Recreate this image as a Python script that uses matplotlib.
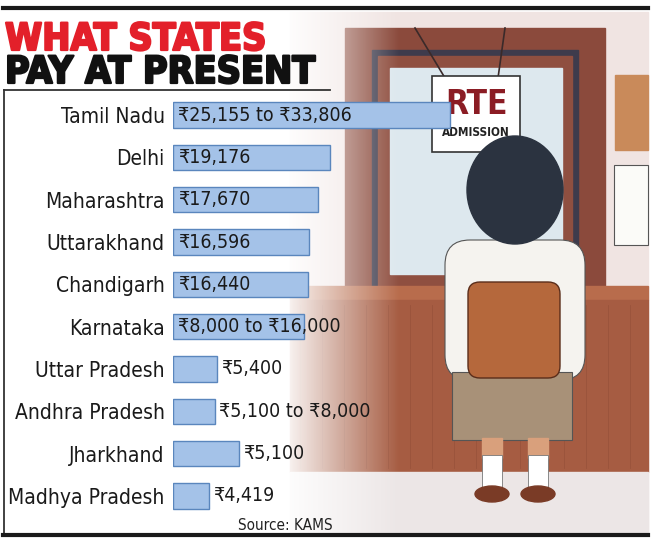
import numpy as np
import matplotlib.pyplot as plt
import matplotlib.patheffects as pe
from matplotlib.patches import Rectangle, Ellipse, FancyBboxPatch

# data
states = ["Tamil Nadu", "Delhi", "Maharashtra", "Uttarakhand", "Chandigarh",
          "Karnataka", "Uttar Pradesh", "Andhra Pradesh", "Jharkhand", "Madhya Pradesh"]
low = [25155, 19176, 17670, 16596, 16440, 8000, 5400, 5100, 5100, 4419]
high = [33806, None, None, None, None, 16000, None, 8000, None, None]
# bar lengths as drawn in the graphic
bar_len = [33806, 19176, 17670, 16596, 16440, 16000, 5400, 5100, 8000, 4419]
inside = [True, True, True, True, True, True, False, False, False, False]

W, H = 655, 544
plt.rcParams["font.family"] = "DejaVu Sans"
plt.rcParams["font.stretch"] = "condensed"

fig = plt.figure(figsize=(W / 100, H / 100), dpi=100)
bg = fig.add_axes([0, 0, 1, 1])
bg.set_xlim(0, W)
bg.set_ylim(H, 0)
bg.axis("off")

# --- rough illustration on the right ---
bg.add_patch(Rectangle((290, 12), 358, 523, color="#f0e4e2", zorder=1))
bg.add_patch(Rectangle((345, 28), 260, 262, color="#8b4a3c", zorder=2))
bg.add_patch(Rectangle((372, 50), 206, 240, color="#3e3b4c", zorder=2))
bg.add_patch(Rectangle((378, 56), 194, 234, color="#8f4f40", zorder=2))
bg.add_patch(Rectangle((390, 68), 172, 206, color="#dde8ee", zorder=2))
bg.add_patch(Rectangle((615, 75), 33, 75, color="#c98a5a", zorder=2))
bg.add_patch(Rectangle((614, 165), 34, 80, color="#fbfbf8", ec="#555", lw=0.8, zorder=2))
bg.add_patch(Rectangle((290, 286), 358, 14, color="#b86c4c", zorder=3))
bg.add_patch(Rectangle((290, 300), 358, 172, color="#a65c42", zorder=3))
for xs in range(300, 648, 22):
    bg.plot([xs, xs], [305, 468], color="#8e4a34", lw=0.6, alpha=0.5, zorder=3)
bg.add_patch(Rectangle((290, 472), 358, 63, color="#ece6e6", zorder=3))
# sign
bg.plot([415, 445], [28, 78], color="#3a2a2a", lw=1.2, zorder=4)
bg.plot([505, 498], [28, 78], color="#3a2a2a", lw=1.2, zorder=4)
bg.add_patch(Rectangle((432, 76), 88, 76, fc="white", ec="#333", lw=1.2, zorder=4))
bg.text(476, 104, "RTE", color="#8b1c24", fontsize=24, fontweight="bold",
        ha="center", va="center", zorder=5)
bg.text(476, 133, "ADMISSION", color="#222", fontsize=8.5, fontweight="bold",
        ha="center", va="center", zorder=5)
# boy
bg.add_patch(FancyBboxPatch((445, 240), 140, 140, boxstyle="round,pad=0,rounding_size=25",
                            fc="#f5f3ef", ec="#555", lw=0.8, zorder=5))
bg.add_patch(Rectangle((452, 372), 120, 68, fc="#a89178", ec="#555", lw=0.8, zorder=5))
for lx in (482, 528):
    bg.add_patch(Rectangle((lx, 438), 20, 20, color="#d9a07c", zorder=5))
    bg.add_patch(Rectangle((lx, 455), 20, 38, fc="white", ec="#777", lw=0.6, zorder=5))
    bg.add_patch(Ellipse((lx + 10, 494), 34, 16, color="#7a3b26", zorder=6))
bg.add_patch(FancyBboxPatch((468, 282), 92, 96, boxstyle="round,pad=0,rounding_size=12",
                            fc="#b5683c", ec="#5a2d1a", lw=1, zorder=6))
bg.add_patch(Ellipse((515, 190), 96, 108, color="#2b3340", zorder=6))

# fade the illustration into white on the left
fade = np.ones((1, 200, 4))
fade[..., 3] = np.linspace(1, 0, 200)
bg.imshow(fade, extent=(280, 400, 536, 10), aspect="auto", zorder=7)
bg.add_patch(Rectangle((0, 10), 280, 526, color="white", zorder=7))

# frame lines
bg.plot([3, 648], [8, 8], color="#1a1a1a", lw=3, zorder=9)
bg.plot([4, 4], [90, 535], color="#333", lw=1.3, zorder=9)
bg.plot([4, 330], [90, 90], color="#333", lw=1.3, zorder=9)
bg.plot([3, 648], [535, 535], color="#1a1a1a", lw=3, zorder=9)

# title
bg.text(5, 50, "WHAT STATES", color="#e3202a", fontsize=27, fontweight="bold",
        va="baseline", zorder=9,
        path_effects=[pe.withStroke(linewidth=1.6, foreground="#e3202a")])
bg.text(5, 83, "PAY AT PRESENT", color="#111", fontsize=27, fontweight="bold",
        va="baseline", zorder=9,
        path_effects=[pe.withStroke(linewidth=1.6, foreground="#111")])
bg.text(333, 525, "Source: KAMS", fontsize=11, ha="right", va="center",
        color="#222", zorder=9)

# --- bar chart ---
x_px = 277 / max(bar_len)
ax = fig.add_axes([173 / W, 1 - 517 / H, (650 - 173) / W, 423 / H])
ax.set_zorder(10)
ax.patch.set_alpha(0)
y = np.arange(len(states))
ax.barh(y, bar_len, height=0.6, color="#a4c2e8", edgecolor="#5a86bd", lw=1)
ax.set_xlim(0, (650 - 173) / x_px)
ax.set_ylim(len(states) - 0.5, -0.5)
ax.set_xticks([])
ax.set_yticks(y)
ax.set_yticklabels(states, fontsize=15, color="#1a1a1a")
ax.tick_params(axis="y", length=0, pad=6)
for s in ax.spines.values():
    s.set_visible(False)

for i in range(len(states)):
    txt = f"₹{low[i]:,}"
    if high[i]:
        txt += f" to ₹{high[i]:,}"
    if inside[i]:
        ax.annotate(txt, (0, y[i]), xytext=(3.5, 0), textcoords="offset points",
                    va="center", ha="left", fontsize=14, color="#1a1a1a")
    else:
        ax.annotate(txt, (bar_len[i], y[i]), xytext=(3, 0), textcoords="offset points",
                    va="center", ha="left", fontsize=14, color="#1a1a1a")

fig.savefig("out.png", dpi=100)
